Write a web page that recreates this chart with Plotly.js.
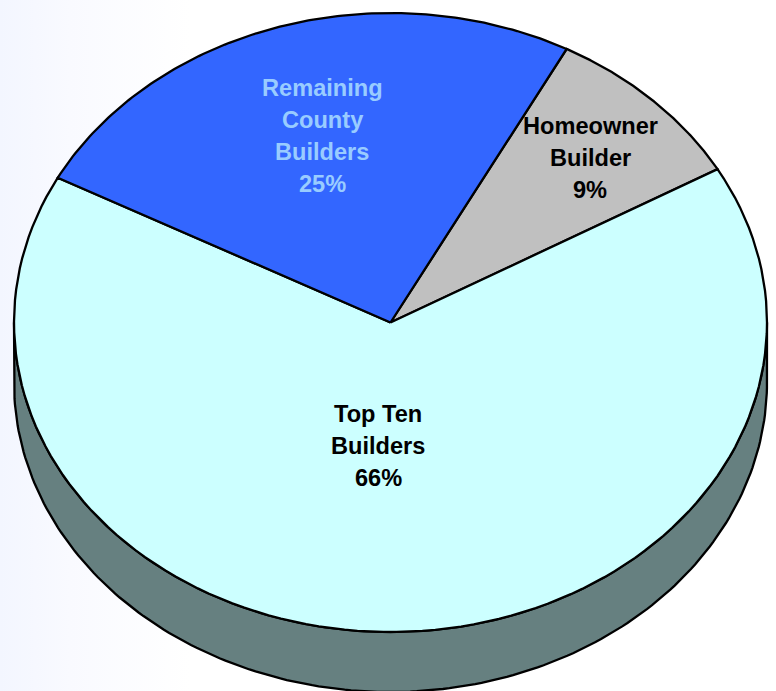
<!DOCTYPE html>
<html>
<head>
<meta charset="utf-8">
<script src="https://cdn.plot.ly/plotly-3.0.1.min.js"></script>
<style>
html,body{margin:0;padding:0;width:776px;height:691px;overflow:hidden;
background:linear-gradient(to right,#f3f6ff 0px,#f9faff 70px,#ffffff 190px);}
#chart{width:776px;height:691px;}
</style>
</head>
<body>
<div id="chart"></div>
<script>
// Data, clockwise from the first slice
const sliceNames = ["Homeowner Builder", "Top Ten Builders", "Remaining County Builders"];
const sliceValues = [9, 66, 25];
const sliceColors = ["#C0C0C0", "#CCFFFF", "#3366FF"];
const labelLines = [["Homeowner", "Builder", "9%"], ["Top Ten", "Builders", "66%"], ["Remaining", "County", "Builders", "25%"]];
const labelColors = ["#000000", "#000000", "#99CCFF"];
const labelX = [590, 378, 322];
const labelTopY = [126, 414, 88];
const lineStep = 32;
const wallColor = "#668080";

// Tilted-pie geometry
const cx = 390.5, cy = 322.5, rx = 376.5, ry = 309.5, depth = 60, startDeg = 27.9;
const pt = (deg, dy) => {
  const a = deg * Math.PI / 180;
  return [cx + rx * Math.sin(a), cy - ry * Math.cos(a) + (dy || 0)];
};

const traces = [];
// Side wall: lower half of the rim, extruded downward
const wx = [], wy = [];
for (let d = 90; d <= 270; d += 1) { const p = pt(d, 0); wx.push(p[0]); wy.push(p[1]); }
for (let d = 270; d >= 90; d -= 1) { const p = pt(d, depth); wx.push(p[0]); wy.push(p[1]); }
wx.push(wx[0]); wy.push(wy[0]);
traces.push({type: "scatter", mode: "lines", x: wx, y: wy, fill: "toself", fillcolor: wallColor,
  line: {color: "#000", width: 2.3}, hoverinfo: "skip", name: "side"});

// Slices from the values
const total = sliceValues.reduce((s, v) => s + v, 0);
let cur = startDeg;
sliceValues.forEach((v, i) => {
  const sweep = v / total * 360;
  const xs = [cx], ys = [cy];
  for (let k = 0; k <= 120; k++) { const p = pt(cur + sweep * k / 120); xs.push(p[0]); ys.push(p[1]); }
  xs.push(cx); ys.push(cy);
  traces.push({type: "scatter", mode: "lines", x: xs, y: ys, fill: "toself", fillcolor: sliceColors[i],
    line: {color: "#000", width: 2.3}, name: sliceNames[i], hoverinfo: "name"});
  cur += sweep;
});

const annotations = [];
labelLines.forEach((lines, i) => lines.forEach((t, j) => annotations.push({
  x: labelX[i], y: labelTopY[i] + j * lineStep, xref: "x", yref: "y", text: "<b>" + t + "</b>", showarrow: false,
  xanchor: "center", yanchor: "middle",
  font: {family: "Liberation Sans, Arial, sans-serif", size: 23.6, color: labelColors[i]}
})));

Plotly.newPlot("chart", traces, {
  width: 776, height: 691, showlegend: false,
  margin: {l: 0, r: 0, t: 0, b: 0},
  paper_bgcolor: "rgba(0,0,0,0)", plot_bgcolor: "rgba(0,0,0,0)",
  xaxis: {range: [0, 776], visible: false, fixedrange: true},
  yaxis: {range: [691, 0], visible: false, fixedrange: true},
  annotations: annotations
}, {displayModeBar: false, staticPlot: true});
</script>
</body>
</html>
